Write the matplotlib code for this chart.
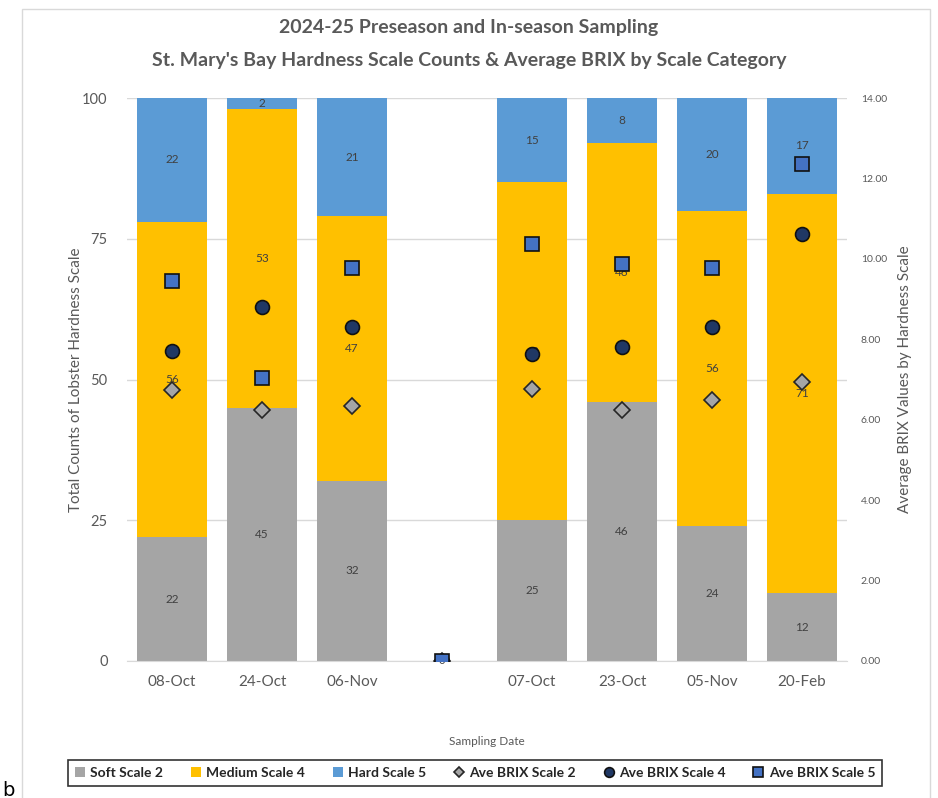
import matplotlib.pyplot as plt
import matplotlib.patches as mpatches
import numpy as np

plt.rcParams['font.family'] = ['Lato', 'DejaVu Sans']

dates = ['08-Oct', '24-Oct', '06-Nov', '', '07-Oct', '23-Oct', '05-Nov', '20-Feb']
soft = [22, 45, 32, 0, 25, 46, 24, 12]
medium = [56, 53, 47, 0, 60, 46, 56, 71]
hard = [22, 2, 21, 0, 15, 8, 20, 17]
brix2 = [6.74, 6.24, 6.35, 0, 6.77, 6.24, 6.49, 6.93]
brix4 = [7.71, 8.81, 8.30, 0, 7.63, 7.82, 8.30, 10.61]
brix5 = [9.46, 7.03, 9.77, 0, 10.37, 9.87, 9.77, 12.36]

c_soft = '#A5A5A5'
c_med = '#FFC000'
c_hard = '#5B9BD5'
txt = '#595959'
lbl = '#404040'

fig = plt.figure(figsize=(9.38, 7.98), dpi=100)
ax = fig.add_axes([127 / 938, 1 - 661 / 798, 720 / 938, 563 / 798])

x = np.arange(len(dates))
w = 0.78
ax.bar(x, soft, w, color=c_soft, label='Soft Scale 2', zorder=2)
ax.bar(x, medium, w, bottom=soft, color=c_med, label='Medium Scale 4', zorder=2)
bot = [s + m for s, m in zip(soft, medium)]
ax.bar(x, hard, w, bottom=bot, color=c_hard, label='Hard Scale 5', zorder=2)

# data labels in the middle of each segment
for i in range(len(x)):
    if soft[i] + medium[i] + hard[i] == 0:
        ax.text(x[i], 0, '0', ha='center', va='center', fontsize=8, color=lbl, zorder=6)
        continue
    ax.text(x[i], soft[i] / 2, str(soft[i]), ha='center', va='center', fontsize=8.5, color=lbl, zorder=3)
    ax.text(x[i], soft[i] + medium[i] / 2, str(medium[i]), ha='center', va='center', fontsize=8.5, color=lbl, zorder=3)
    ax.text(x[i], bot[i] + hard[i] / 2, str(hard[i]), ha='center', va='center', fontsize=8.5, color=lbl, zorder=3)

ax.set_xlim(-0.5, len(dates) - 0.5)
ax.set_ylim(0, 100)
ax.set_yticks([0, 25, 50, 75, 100])
ax.set_xticks(x)
ax.set_xticklabels(dates, fontsize=11, color=txt)
ax.tick_params(axis='y', labelsize=10.5, colors=txt, length=0, pad=14)
ax.tick_params(axis='x', length=0, pad=10)
ax.grid(axis='y', color='#D9D9D9', linewidth=1, zorder=0)
for s in ['top', 'right', 'left']:
    ax.spines[s].set_visible(False)
ax.spines['bottom'].set_color('#D9D9D9')
ax.set_ylabel('Total Counts of Lobster Hardness Scale', fontsize=11, color=txt)
ax.yaxis.set_label_coords(-44 / 720, 0.5)
ax.set_xlabel('Sampling Date', fontsize=8.5, color=txt, labelpad=34)

ax2 = ax.twinx()
ax2.set_ylim(0, 14)
ax2.set_yticks(np.arange(0, 15, 2))
ax2.set_yticklabels(['%.2f' % v for v in np.arange(0, 15, 2)])
ax2.tick_params(axis='y', labelsize=7.5, colors=txt, length=0, pad=10)
for s in ax2.spines.values():
    s.set_visible(False)
ax2.set_ylabel('Average BRIX Values by Hardness Scale', fontsize=11, color=txt)
ax2.yaxis.set_label_coords(1 + 51 / 720, 0.5)

ax2.plot(x, brix2, linestyle='none', marker='D', markersize=8, markerfacecolor=c_soft,
         markeredgecolor='#262626', markeredgewidth=1.2, label='Ave BRIX Scale 2', zorder=4)
ax2.plot(x, brix4, linestyle='none', marker='o', markersize=10, markerfacecolor='#203864',
         markeredgecolor='#111111', markeredgewidth=1.2, label='Ave BRIX Scale 4', zorder=4)
ax2.plot(x, brix5, linestyle='none', marker='s', markersize=10, markerfacecolor='#4472C4',
         markeredgecolor='#111111', markeredgewidth=1.2, label='Ave BRIX Scale 5', zorder=4)

fig.suptitle("2024-25 Preseason and In-season Sampling\nSt. Mary's Bay Hardness Scale Counts & Average BRIX by Scale Category",
             y=0.976, fontsize=14, fontweight='bold', color=txt, linespacing=2.1)

h1, l1 = ax.get_legend_handles_labels()
h2, l2 = ax2.get_legend_handles_labels()
leg = fig.legend(h1 + h2, l1 + l2, loc='center', bbox_to_anchor=(475 / 938, 1 - 773 / 798),
                 ncol=6, fontsize=10, frameon=True, fancybox=False, handlelength=0.7,
                 handletextpad=0.4, columnspacing=2.0, borderpad=0.5, markerscale=0.7)
leg.get_frame().set_edgecolor('black')
leg.get_frame().set_linewidth(1.2)
for t in leg.get_texts():
    t.set_color('#262626')
    t.set_fontweight('bold')

# chart area border and stray letter from the screenshot
fig.patches.append(mpatches.Rectangle((22 / 938, -0.01), 908 / 938, 1 - 9 / 798 + 0.01,
                                      transform=fig.transFigure, fill=False,
                                      edgecolor='#D9D9D9', linewidth=1))
fig.text(8 / 938, 1 - 790 / 798, 'b', fontsize=14, color='black', va='center', ha='center',
         family='DejaVu Sans')

fig.savefig('out.png', dpi=100)
